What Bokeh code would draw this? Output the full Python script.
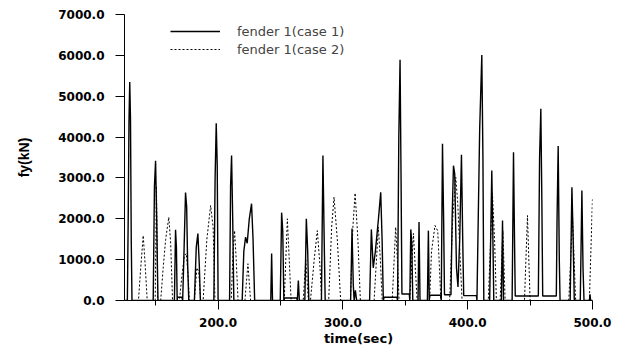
from bokeh.plotting import figure
from bokeh.models import Range1d, FixedTicker, PrintfTickFormatter, Legend, LegendItem
from bokeh.embed import file_html
from bokeh.resources import INLINE

# ---- data ----
case1_time = [125.0, 127.3, 128.0, 128.6, 129.2, 129.8, 130.4, 131.0,
              148.0, 149.0, 149.9, 150.8, 151.8,
              165.0, 165.9, 166.6, 167.2, 167.5, 171.0,
              171.6, 172.6, 173.9, 174.8, 175.6, 176.5,
              181.0, 182.5, 183.8, 184.9, 185.8,
              196.6, 197.6, 198.5, 199.3, 200.0,
              209.2, 210.0, 210.8, 211.7, 212.6,
              219.3, 220.6, 222.0, 223.3, 225.0, 226.8, 228.0, 229.3,
              242.2, 242.9, 243.6,
              249.8, 250.9, 251.8, 252.7, 253.2, 263.0,
              263.5, 264.3, 265.1,
              269.5, 270.7, 271.8, 272.7,
              282.8, 284.0, 285.0, 285.8,
              306.2, 307.3, 308.3, 309.0, 310.0, 311.0,
              321.4, 322.8, 324.3, 326.0, 328.5, 330.3, 331.4, 332.4, 333.0, 343.3,
              343.8, 344.8, 345.8, 346.6, 347.3, 353.2,
              353.6, 354.4, 355.2, 356.0,
              360.2, 361.0, 361.8,
              367.7, 368.5, 369.2, 369.6, 378.3,
              378.8, 379.8, 380.7, 381.4, 386.6,
              387.5, 388.6, 389.6, 391.0, 392.2, 393.6, 395.0, 396.0, 396.8, 407.0,
              407.4, 409.6, 411.3, 412.2, 412.9,
              417.6, 419.3, 420.2, 420.9,
              427.0, 427.9, 428.7,
              435.6, 436.7, 437.5, 438.1, 456.6,
              457.6, 458.6, 459.4, 460.1, 471.0,
              471.6, 472.5, 473.4, 474.0,
              482.1, 483.5, 484.5, 485.4,
              490.2, 491.5, 492.4, 493.2,
              497.5, 498.0, 498.5, 500.0]
case1_force = [0, 0, 2100, 4400, 5350, 4450, 1500, 0,
               0, 2800, 3420, 2000, 0,
               0, 1730, 1300, 0, 80, 80,
               0, 1100, 2640, 2300, 900, 0,
               0, 1300, 1640, 900, 0,
               0, 3000, 4340, 3300, 0,
               0, 2800, 3550, 2000, 0,
               0, 1200, 1550, 1400, 2000, 2370, 1500, 0,
               0, 1150, 0,
               0, 2150, 1700, 0, 60, 60,
               0, 490, 0,
               0, 2000, 1200, 0,
               0, 3550, 1500, 0,
               0, 1760, 400, 0, 250, 0,
               0, 1740, 800, 1200, 2000, 2650, 1500, 0, 80, 80,
               0, 4000, 5890, 3000, 160, 160,
               0, 1740, 1400, 0,
               0, 1920, 0,
               0, 1710, 0, 130, 130,
               0, 3835, 2000, 140, 140,
               2000, 3300, 3100, 800, 330, 1500, 3570, 1500, 120, 120,
               0, 4200, 6010, 3500, 0,
               0, 3180, 1500, 0,
               0, 1960, 0,
               0, 3630, 1500, 110, 110,
               3500, 4690, 2500, 110, 110,
               2000, 3780, 1000, 0,
               0, 2770, 1500, 0,
               0, 2690, 800, 0,
               0, 150, 0, 0]

case2_time = [125.0, 136.2, 138.0, 140.0, 141.5, 143.2,
              149.6, 150.6, 151.6,
              154.0, 156.0, 158.0, 160.5, 162.0, 163.5,
              169.0, 171.0, 173.0, 174.5, 176.0, 177.0,
              181.0, 183.0, 184.5, 186.0,
              188.0, 191.0, 194.0, 196.0, 197.5,
              210.5, 212.0, 213.2, 214.5, 216.0,
              221.5, 223.9, 226.0,
              253.0, 255.5, 258.5,
              268.2, 270.3, 272.3,
              274.0, 277.0, 279.5, 281.5, 283.0,
              288.6, 291.0, 292.9, 295.5, 298.2,
              306.0, 308.0, 309.8, 312.0, 314.0,
              325.0, 328.4, 330.0, 331.5,
              339.5, 342.3, 344.0, 345.0,
              353.5, 356.5, 358.0, 359.5,
              369.5, 371.0, 373.8, 376.0, 377.5, 378.5,
              385.5, 388.0, 390.4, 392.0, 394.0, 395.5,
              416.5, 419.8, 421.5, 423.0,
              426.0, 428.2, 430.0,
              445.5, 447.9, 450.0,
              481.0, 484.0, 486.5,
              497.5, 500.0]
case2_force = [0, 0, 800, 1590, 900, 0,
               0, 2800, 0,
               0, 800, 1500, 2040, 1400, 0,
               0, 600, 1100, 1150, 600, 0,
               0, 800, 700, 0,
               0, 1500, 2325, 1800, 0,
               0, 1200, 1710, 1000, 0,
               0, 900, 0,
               0, 2000, 0,
               0, 1000, 0,
               0, 1000, 1710, 900, 0,
               0, 1800, 2530, 1500, 0,
               0, 1800, 2630, 1500, 0,
               0, 1795, 1000, 0,
               0, 1795, 800, 0,
               0, 1640, 800, 0,
               0, 1200, 1835, 1700, 700, 0,
               0, 2000, 3020, 2400, 1000, 0,
               0, 2620, 1500, 0,
               0, 1710, 0,
               0, 2080, 0,
               0, 2040, 0,
               0, 2510]

x_major = [200, 300, 400, 500]
x_minor = [150, 250, 350, 450]
y_major = [0, 1000, 2000, 3000, 4000, 5000, 6000, 7000]
series_labels = ["fender 1(case 1)", "fender 1(case 2)"]

p = figure(frame_width=468, frame_height=286, output_backend="svg", toolbar_location=None,
           x_range=Range1d(125, 500), y_range=Range1d(0, 7000),
           min_border_left=124, min_border_right=32, min_border_top=14, min_border_bottom=46)
p.outline_line_color = None
p.xgrid.visible = False
p.ygrid.visible = False
p.background_fill_color = "white"
p.border_fill_color = "white"

r1 = p.line(case1_time, case1_force, line_color="black", line_width=1.4)
r2 = p.line(case2_time, case2_force, line_color="black", line_width=1.0, line_dash="2 2")

xa = p.xaxis[0]
xa.ticker = FixedTicker(ticks=x_major, minor_ticks=x_minor)
xa.formatter = PrintfTickFormatter(format="%.1f")
xa.axis_label = "time(sec)"
xa.major_tick_out = 9
xa.major_tick_in = 0
xa.minor_tick_out = 5
xa.minor_tick_in = 0
xa.major_label_standoff = 8
xa.axis_label_standoff = 1
xa.major_label_text_font = "DejaVu Sans"
xa.major_label_text_font_style = "bold"
xa.major_label_text_font_size = "12px"
xa.axis_label_text_font = "DejaVu Sans"
xa.axis_label_text_font_style = "bold"
xa.axis_label_text_font_size = "13px"

ya = p.yaxis[0]
ya.ticker = FixedTicker(ticks=y_major, minor_ticks=[])
ya.formatter = PrintfTickFormatter(format="%.1f")
ya.axis_label = "fy(kN)"
ya.major_tick_out = 9
ya.major_tick_in = 0
ya.minor_tick_out = 0
ya.minor_tick_in = 0
ya.major_label_standoff = 11
ya.axis_label_standoff = 23
ya.major_label_text_font = "DejaVu Sans"
ya.major_label_text_font_style = "bold"
ya.major_label_text_font_size = "12px"
ya.axis_label_text_font = "Liberation Sans"
ya.axis_label_text_font_style = "bold"
ya.axis_label_text_font_size = "14px"

for ax in (xa, ya):
    ax.axis_line_color = "black"
    ax.major_tick_line_color = "black"
    ax.minor_tick_line_color = "black"
    ax.major_label_text_color = "black"
    ax.axis_label_text_color = "black"

legend = Legend(items=[LegendItem(label=series_labels[0], renderers=[r1]),
                       LegendItem(label=series_labels[1], renderers=[r2])],
                location=(46, 243), glyph_width=50, glyph_height=16, spacing=2,
                label_standoff=17, padding=0, margin=0,
                border_line_color=None, background_fill_alpha=0,
                label_text_font="DejaVu Sans", label_text_font_size="13px")
p.add_layout(legend)

open("out.html", "w").write(file_html(p, INLINE))
